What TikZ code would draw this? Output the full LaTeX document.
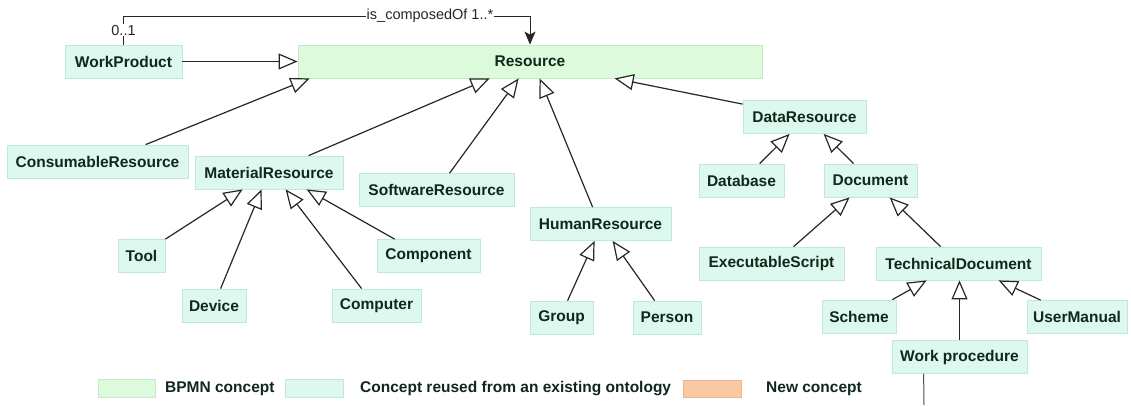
\documentclass[tikz,border=0pt]{standalone}
\usepackage{fontspec}
\setmainfont{Liberation Sans}
\usetikzlibrary{arrows.meta,calc}
\definecolor{bpmnfill}{HTML}{DDFADD}
\definecolor{bpmnline}{HTML}{C4EBC4}
\definecolor{reusefill}{HTML}{DDF8EE}
\definecolor{reuseline}{HTML}{C2E8D8}
\definecolor{newfill}{HTML}{F8C9A2}
\definecolor{newline}{HTML}{EDB68C}
\definecolor{txt}{HTML}{10281A}
\begin{document}
\begin{tikzpicture}[x=1pt,y=-1pt,
  concept/.style={draw=reuseline, fill=reusefill, line width=0.8pt, minimum height=33pt,
    inner sep=0pt, text=txt, font=\fontsize{15.5}{18}\selectfont\bfseries},
  bpmn/.style={concept, draw=bpmnline, fill=bpmnfill},
  newc/.style={concept, draw=newline, fill=newfill},
  isa/.style={draw=black!85, line width=1.2pt,
    -{Triangle[open, length=19pt, width=16pt, fill=white]}},
  comp/.style={draw=black!85, line width=1pt, -{Stealth[length=13pt, width=11pt, inset=3pt]}},
  plain/.style={draw=black!70, line width=1pt},
  lbl/.style={fill=white, inner sep=1pt, text=black!85, font=\fontsize{14.5}{17}\selectfont},
  legtxt/.style={anchor=west, inner sep=0pt, text=txt, font=\fontsize{15.5}{18}\selectfont\bfseries}]
\useasboundingbox (0,0) rectangle (1131,405);

% nodes
\node[concept, minimum width=117pt] (wpd) at (123.5,61.5) {WorkProduct};
\node[bpmn, minimum width=464pt] (res) at (530,61.5) {Resource};
\node[concept, minimum width=181pt] (cons) at (97.5,161.5) {ConsumableResource};
\node[concept, minimum width=148pt] (mat) at (269,172.5) {MaterialResource};
\node[concept, minimum width=155pt] (soft) at (436.5,190) {SoftwareResource};
\node[concept, minimum width=141pt] (hum) at (600.5,224) {HumanResource};
\node[concept, minimum width=123pt] (data) at (804.5,117) {DataResource};
\node[concept, minimum width=85pt] (db) at (741.5,180.5) {Database};
\node[concept, minimum width=93pt] (doc) at (870.5,180.5) {Document};
\node[concept, minimum width=47pt] (tool) at (141.5,256) {Tool};
\node[concept, minimum width=64pt] (dev) at (214,305.5) {Device};
\node[concept, minimum width=89pt] (comp) at (376.5,305.5) {Computer};
\node[concept, minimum width=103pt] (cpt) at (428.5,256) {Component};
\node[concept, minimum width=63pt] (grp) at (561.5,317.5) {Group};
\node[concept, minimum width=68pt] (pers) at (667,317.5) {Person};
\node[concept, minimum width=145pt] (exe) at (771.5,263.5) {ExecutableScript};
\node[concept, minimum width=165pt] (tech) at (958.5,263.5) {TechnicalDocument};
\node[concept, minimum width=74pt] (sch) at (859,316.5) {Scheme};
\node[concept, minimum width=100pt] (um) at (1077,317) {UserManual};
\node[concept, minimum width=135pt] (wp) at (959.5,357) {Work procedure};

% composition
\coordinate (ctop) at (123.5,16);
\draw[comp] (wpd.north) -- node[lbl, pos=0.5] {0..1} (wpd.north |- ctop)
  -- node[lbl, pos=0.754] {is\_composedOf 1..*} (res.north |- ctop) -- (res.north);

% generalisations to Resource
\draw[isa] (wpd.east) -- (res.west);
\draw[isa] ([xshift=139pt]cons.north west) -- ([xshift=12pt]res.south west);
\draw[isa] ([xshift=114pt]mat.north west) -- ([xshift=192pt]res.south west);
\draw[isa] ([xshift=91pt]soft.north west) -- ([xshift=221pt]res.south west);
\draw[isa] ([xshift=63pt]hum.north west) -- ([xshift=242pt]res.south west);
\draw[isa] ([yshift=-4pt]data.north west) -- ([xshift=317pt]res.south west);

% MaterialResource
\draw[isa] (tool.north east) -- ([xshift=48pt]mat.south west);
\draw[isa] ([xshift=39pt]dev.north west) -- ([xshift=67pt]mat.south west);
\draw[isa] ([xshift=30pt]comp.north west) -- ([xshift=91pt]mat.south west);
\draw[isa] ([xshift=18pt]cpt.north west) -- ([xshift=112pt]mat.south west);

% HumanResource
\draw[isa] ([xshift=38pt]grp.north west) -- ([xshift=65pt]hum.south west);
\draw[isa] ([xshift=22pt]pers.north west) -- ([xshift=83pt]hum.south west);

% DataResource
\draw[isa] ([xshift=61pt]db.north west) -- ([xshift=47pt]data.south west);
\draw[isa] ([xshift=30pt]doc.north west) -- ([xshift=81pt]data.south west);

% Document
\draw[isa] ([xshift=95pt]exe.north west) -- ([xshift=26pt]doc.south west);
\draw[isa] ([xshift=65pt]tech.north west) -- ([xshift=66pt]doc.south west);

% TechnicalDocument
\draw[isa] ([xshift=-4pt]sch.north east) -- ([xshift=51pt]tech.south west);
\draw[isa] (wp.north) -- (wp.north |- tech.south);
\draw[isa] ([xshift=14pt]um.north west) -- ([xshift=123pt]tech.south west);

% line below Work procedure
\coordinate (wpend) at (924,405);
\draw[plain] ([xshift=32pt]wp.south west) -- (wpend);

% legend
\node[bpmn, minimum width=57pt, minimum height=18pt] (lg1) at (126.5,388) {};
\node[legtxt] (lt1) at (165,389) {BPMN concept};
\node[concept, minimum width=58pt, minimum height=18pt] (lg2) at (314,388) {};
\node[legtxt] (lt2) at (360,389) {Concept reused from an existing ontology};
\node[newc, minimum width=58pt, minimum height=17pt] (lg3) at (712,388.5) {};
\node[legtxt] (lt3) at (766,389) {New concept};
\end{tikzpicture}
\end{document}
